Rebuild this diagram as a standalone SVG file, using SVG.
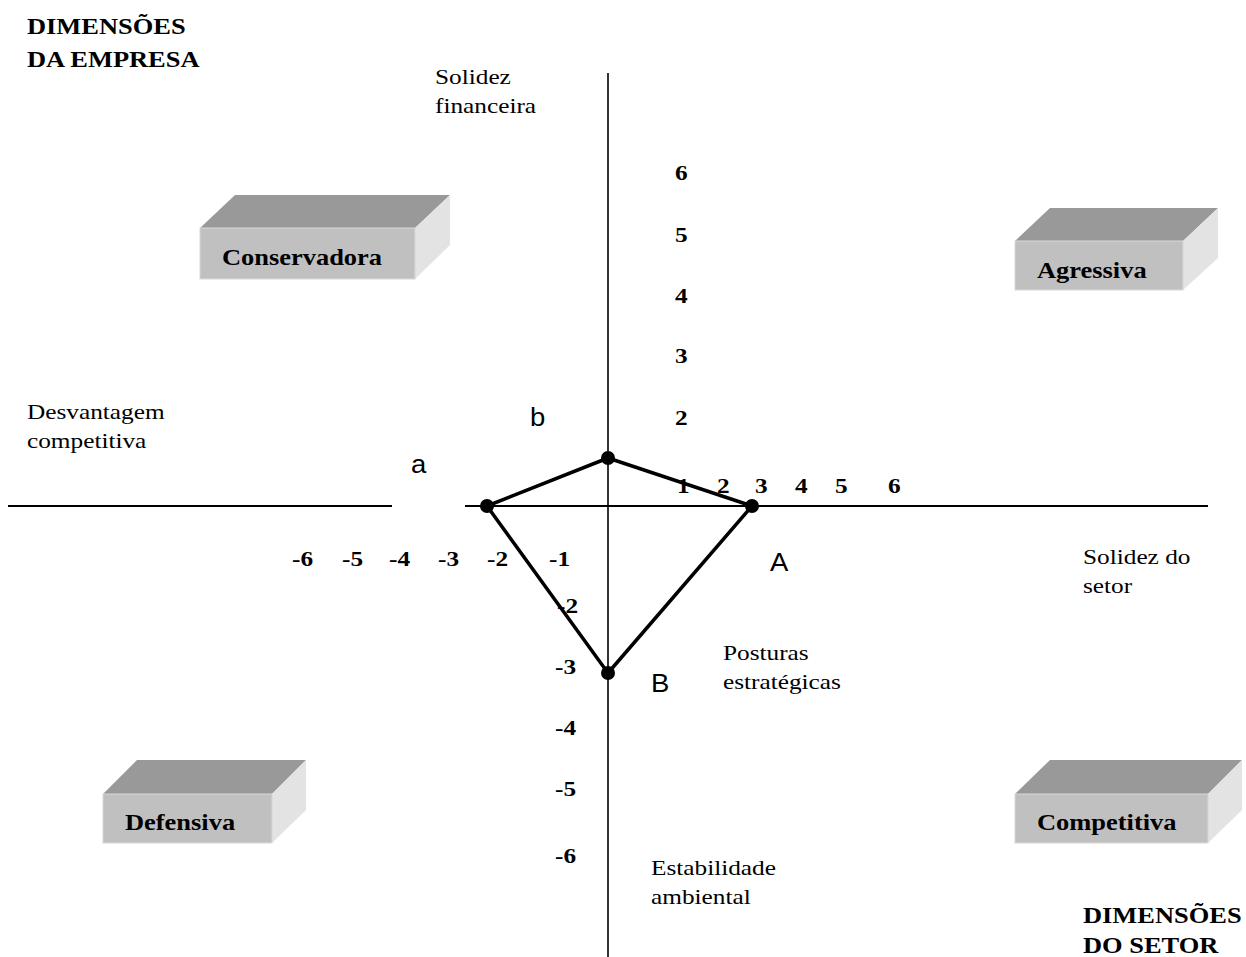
<svg xmlns="http://www.w3.org/2000/svg" width="1246" height="957" viewBox="0 0 1246 957">
  <style>
    text { font-family: "Liberation Serif", "Times New Roman", serif; fill: #000; }
    .reg { font-size: 22px; }
    .bold { font-size: 23px; font-weight: bold; }
    .num { font-size: 22px; font-weight: bold; }
    .pt { font-family: "Liberation Sans", Arial, sans-serif; font-size: 25px; }
    .axis { stroke: #000; fill: none; }
    .poly { stroke: #000; stroke-width: 3.5; fill: none; stroke-linejoin: round; }
    .dot { fill: #000; }
    .top { fill: #999999; }
    .front { fill: #c0c0c0; stroke: #d8d8d8; stroke-width: 1; }
    .side { fill: #e3e3e3; }
  </style>

  <rect width="1246" height="957" fill="#fff"/>

  <!-- axes -->
  <g id="axes">
    <line class="axis" x1="8" y1="506" x2="392" y2="506" stroke-width="2"/>
    <line class="axis" x1="465" y1="506" x2="1208" y2="506" stroke-width="2"/>
    <line class="axis" x1="608" y1="73" x2="608" y2="957" stroke-width="1.6"/>
  </g>

  <!-- strategic posture polygon -->
  <g id="connectors">
    <polygon class="poly" points="487,506 608,458 752,506 608,673"/>
  </g>
  <g id="points">
    <circle class="dot" cx="487" cy="506" r="7"/>
    <circle class="dot" cx="608" cy="458" r="7"/>
    <circle class="dot" cx="752" cy="506" r="7"/>
    <circle class="dot" cx="608" cy="673" r="7"/>
  </g>

  <!-- quadrant blocks -->
  <g id="conservadora">
    <polygon class="top" points="200,228 235,195 450,195 415,228"/>
    <polygon class="side" points="415,228 450,195 450,245 415,279"/>
    <rect class="front" x="200" y="228" width="215" height="51"/>
    <text class="bold" transform="translate(222,265) scale(1.15,1)">Conservadora</text>
  </g>
  <g id="agressiva">
    <polygon class="top" points="1015,241 1050,208 1218,208 1183,241"/>
    <polygon class="side" points="1183,241 1218,208 1218,258 1183,290"/>
    <rect class="front" x="1015" y="241" width="168" height="49"/>
    <text class="bold" transform="translate(1037,278) scale(1.15,1)">Agressiva</text>
  </g>
  <g id="defensiva">
    <polygon class="top" points="103,794 137,760 306,760 272,794"/>
    <polygon class="side" points="272,794 306,760 306,810 272,843"/>
    <rect class="front" x="103" y="794" width="169" height="49"/>
    <text class="bold" transform="translate(125,830) scale(1.15,1)">Defensiva</text>
  </g>
  <g id="competitiva">
    <polygon class="top" points="1015,794 1050,760 1242,760 1208,794"/>
    <polygon class="side" points="1208,794 1242,760 1242,810 1208,843"/>
    <rect class="front" x="1015" y="794" width="193" height="49"/>
    <text class="bold" transform="translate(1037,830) scale(1.15,1)">Competitiva</text>
  </g>

  <!-- headings -->
  <g id="dim-empresa">
    <text class="bold" transform="translate(27,34) scale(1.15,1)">DIMENSÕES</text>
    <text class="bold" transform="translate(27,67) scale(1.15,1)">DA EMPRESA</text>
  </g>
  <g id="dim-setor">
    <text class="bold" transform="translate(1083,923) scale(1.15,1)">DIMENSÕES</text>
    <text class="bold" transform="translate(1083,953) scale(1.15,1)">DO SETOR</text>
  </g>

  <!-- axis captions -->
  <g id="solidez-financeira">
    <text class="reg" transform="translate(435,84) scale(1.15,1)">Solidez</text>
    <text class="reg" transform="translate(435,113) scale(1.15,1)">financeira</text>
  </g>
  <g id="desvantagem">
    <text class="reg" transform="translate(27,419) scale(1.15,1)">Desvantagem</text>
    <text class="reg" transform="translate(27,448) scale(1.15,1)">competitiva</text>
  </g>
  <g id="solidez-setor">
    <text class="reg" transform="translate(1083,564) scale(1.15,1)">Solidez do</text>
    <text class="reg" transform="translate(1083,593) scale(1.15,1)">setor</text>
  </g>
  <g id="posturas">
    <text class="reg" transform="translate(723,660) scale(1.15,1)">Posturas</text>
    <text class="reg" transform="translate(723,689) scale(1.15,1)">estratégicas</text>
  </g>
  <g id="estabilidade">
    <text class="reg" transform="translate(651,875) scale(1.15,1)">Estabilidade</text>
    <text class="reg" transform="translate(651,904) scale(1.15,1)">ambiental</text>
  </g>

  <!-- point labels -->
  <g id="labels">
    <text class="pt" transform="translate(411,473) scale(1.1,1)">a</text>
    <text class="pt" transform="translate(530,426) scale(1.1,1)">b</text>
    <text class="pt" transform="translate(770,571) scale(1.1,1)">A</text>
    <text class="pt" transform="translate(651,692) scale(1.1,1)">B</text>
  </g>

  <!-- scale numbers -->
  <g id="ticks">
    <text class="num" transform="translate(675,180) scale(1.15,1)">6</text>
    <text class="num" transform="translate(675,242) scale(1.15,1)">5</text>
    <text class="num" transform="translate(675,303) scale(1.15,1)">4</text>
    <text class="num" transform="translate(675,363) scale(1.15,1)">3</text>
    <text class="num" transform="translate(675,425) scale(1.15,1)">2</text>

    <text class="num" transform="translate(677,493) scale(1.15,1)">1</text>
    <text class="num" transform="translate(717,493) scale(1.15,1)">2</text>
    <text class="num" transform="translate(755,493) scale(1.15,1)">3</text>
    <text class="num" transform="translate(795,493) scale(1.15,1)">4</text>
    <text class="num" transform="translate(835,493) scale(1.15,1)">5</text>
    <text class="num" transform="translate(888,493) scale(1.15,1)">6</text>

    <text class="num" transform="translate(292,566) scale(1.15,1)">-6</text>
    <text class="num" transform="translate(342,566) scale(1.15,1)">-5</text>
    <text class="num" transform="translate(389,566) scale(1.15,1)">-4</text>
    <text class="num" transform="translate(438,566) scale(1.15,1)">-3</text>
    <text class="num" transform="translate(487,566) scale(1.15,1)">-2</text>
    <text class="num" transform="translate(549,566) scale(1.15,1)">-1</text>

    <text class="num" transform="translate(557,613) scale(1.15,1)">-2</text>
    <text class="num" transform="translate(555,674) scale(1.15,1)">-3</text>
    <text class="num" transform="translate(555,735) scale(1.15,1)">-4</text>
    <text class="num" transform="translate(555,796) scale(1.15,1)">-5</text>
    <text class="num" transform="translate(555,863) scale(1.15,1)">-6</text>
  </g>
</svg>
